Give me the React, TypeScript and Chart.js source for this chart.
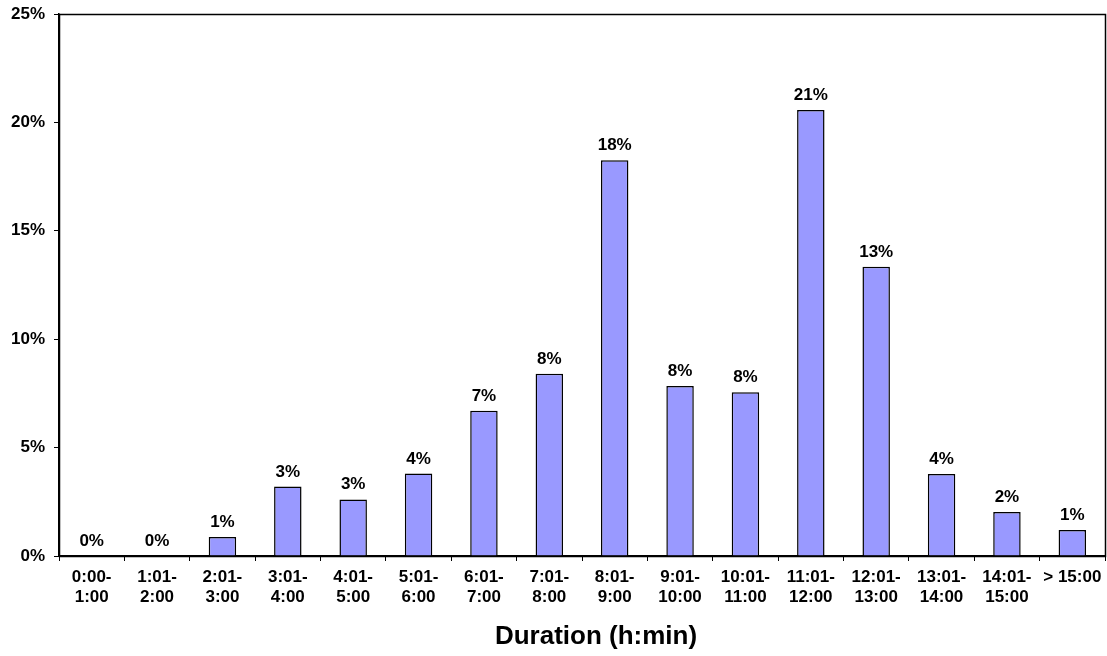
import React, { useEffect, useRef } from "react";
import { Chart, registerables } from "chart.js";

Chart.register(...registerables);

const categories: string[][] = [
  ["0:00-", "1:00"],
  ["1:01-", "2:00"],
  ["2:01-", "3:00"],
  ["3:01-", "4:00"],
  ["4:01-", "5:00"],
  ["5:01-", "6:00"],
  ["6:01-", "7:00"],
  ["7:01-", "8:00"],
  ["8:01-", "9:00"],
  ["9:01-", "10:00"],
  ["10:01-", "11:00"],
  ["11:01-", "12:00"],
  ["12:01-", "13:00"],
  ["13:01-", "14:00"],
  ["14:01-", "15:00"],
  ["> 15:00"],
];

const shares: number[] = [
  0, 0, 0.88, 3.2, 2.61, 3.8, 6.7, 8.41, 18.25, 7.84, 7.55, 20.57, 13.34, 3.78, 2.03, 1.2,
];

const yTicks: number[] = [0, 5, 10, 15, 20, 25];

const xTitle = "Duration (h:min)";

const FONT = "'Liberation Sans', Arial, sans-serif";

const boxAndLabels = {
  id: "boxAndLabels",
  afterDatasetsDraw(chart: any) {
    const { ctx, chartArea } = chart;
    ctx.save();
    ctx.strokeStyle = "#000";
    ctx.lineWidth = 1.5;
    ctx.strokeRect(
      Math.round(chartArea.left) + 0.5,
      Math.round(chartArea.top) + 0.5,
      Math.round(chartArea.right - chartArea.left),
      Math.round(chartArea.bottom - chartArea.top)
    );
    const meta = chart.getDatasetMeta(0);
    ctx.fillStyle = "#000";
    ctx.font = `bold 17px ${FONT}`;
    ctx.textAlign = "center";
    ctx.textBaseline = "alphabetic";
    meta.data.forEach((bar: any, i: number) => {
      const v = shares[i];
      ctx.fillText(`${Math.round(v)}%`, bar.x, bar.y - 10);
    });
    // axis title
    ctx.font = `bold 26px ${FONT}`;
    ctx.textBaseline = "middle";
    ctx.fillText(xTitle, (chartArea.left + chartArea.right) / 2 + 14, chart.height - 19);
    ctx.restore();
  },
};

export default function App() {
  const ref = useRef<HTMLCanvasElement | null>(null);
  useEffect(() => {
    document.body.style.margin = "0";
    if (!ref.current) return;
    const chart = new Chart(ref.current, {
      type: "bar",
      data: {
        labels: categories,
        datasets: [
          {
            data: shares,
            backgroundColor: "#9999FF",
            borderColor: "#000000",
            borderWidth: 1.5,
            barPercentage: 0.42,
            categoryPercentage: 1,
          },
        ],
      },
      options: {
        animation: false,
        responsive: true,
        maintainAspectRatio: false,
        layout: { padding: { top: 14, right: 2, left: 0, bottom: 0 } },
        plugins: {
          legend: { display: false },
          tooltip: { enabled: false },
        },
        scales: {
          x: {
            afterFit: (s: any) => {
              s.height = 100;
              s.paddingLeft = 0;
              s.paddingRight = 0;
            },
            grid: {
              offset: true,
              drawOnChartArea: false,
              drawTicks: true,
              tickLength: 5,
              color: "#000",
            },
            border: { color: "#000", width: 1.5 },
            ticks: {
              color: "#000",
              font: { family: FONT, size: 17, weight: "bold", lineHeight: 1.18 },
              padding: 6,
              maxRotation: 0,
              autoSkip: false,
            },
          },
          y: {
            min: 0,
            max: 25,
            afterFit: (s: any) => {
              s.width = 59;
              s.paddingTop = 0;
              s.paddingBottom = 0;
            },
            afterBuildTicks: (s: any) => {
              s.ticks = yTicks.map((v) => ({ value: v }));
            },
            grid: {
              drawOnChartArea: false,
              drawTicks: true,
              tickLength: 5,
              color: "#000",
            },
            border: { color: "#000", width: 1.5 },
            ticks: {
              color: "#000",
              font: { family: FONT, size: 17, weight: "bold" },
              padding: 9,
              callback: (v: any) => `${v}%`,
            },
          },
        },
      },
      plugins: [boxAndLabels],
    });
    return () => chart.destroy();
  }, []);
  return (
    <div style={{ width: 1107, height: 656, position: "relative" }}>
      <canvas ref={ref} />
    </div>
  );
}
